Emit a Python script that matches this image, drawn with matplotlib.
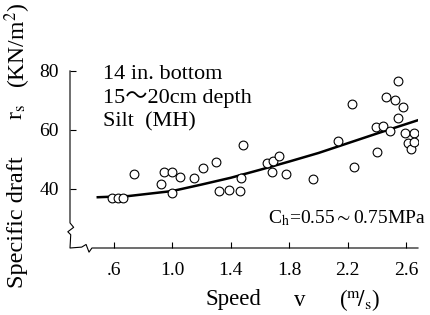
import matplotlib
matplotlib.use('Agg')
import matplotlib.pyplot as plt

# scatter data: speed (m/s), specific draft (kN/m2)
speed = [0.59, 0.63, 0.66, 0.74, 0.92, 0.94, 1.00, 1.00, 1.05, 1.15,
         1.21, 1.30, 1.32, 1.39, 1.46, 1.47, 1.48, 1.65, 1.68, 1.69,
         1.73, 1.78, 1.96, 2.13, 2.23, 2.24, 2.39, 2.40, 2.44, 2.46,
         2.49, 2.52, 2.54, 2.54, 2.58, 2.59, 2.61, 2.63, 2.65, 2.65]
draft = [37.0, 37.0, 37.0, 45.1, 41.7, 45.8, 45.8, 38.6, 44.0, 43.7,
         47.1, 49.2, 39.3, 39.7, 39.3, 43.7, 54.9, 48.8, 45.8, 49.5,
         51.2, 45.1, 43.4, 56.3, 68.8, 47.5, 61.0, 52.5, 61.4, 71.2,
         59.7, 70.2, 76.6, 64.1, 67.8, 59.0, 55.6, 53.6, 59.0, 55.9]

# fitted curve, points
curve_v = [0.49, 0.70, 1.00, 1.20, 1.40, 1.60, 1.80, 2.00, 2.20, 2.40, 2.68]
curve_r = [37.2, 37.6, 39.3, 41.5, 43.8, 46.5, 49.3, 52.2, 55.5, 58.8, 63.3]

xticks = [0.6, 1.0, 1.4, 1.8, 2.2, 2.6]
xlabels = ['.6', '1.0', '1.4', '1.8', '2.2', '2.6']
yticks = [40, 60, 80]

plt.rcParams['font.family'] = 'Liberation Serif'
plt.rcParams['mathtext.fontset'] = 'stix'

fig = plt.figure(figsize=(4.3, 3.15), dpi=100)
ax = fig.add_axes([70 / 430, 1 - 248 / 315, 348 / 430, 183 / 315])
ax.set_xlim(0.30, 2.68)
ax.set_ylim(20, 82)

ax.plot(curve_v, curve_r, color='black', linewidth=1.8)
ax.scatter(speed, draft, s=40, facecolors='white', edgecolors='black',
           linewidths=0.8, zorder=3)

for s in ax.spines.values():
    s.set_visible(False)

# hand drawn axes with break marks
ax.plot([0.30, 0.30, 0.325, 0.285, 0.305, 0.30, 0.38, 0.41, 0.43, 0.45, 2.68],
        [80, 28.5, 27.0, 25.5, 24.5, 20, 20.3, 21.2, 18.6, 20, 20],
        color='black', linewidth=0.8, clip_on=False)

ax.set_xticks(xticks)
ax.set_xticklabels(xlabels)
ax.set_yticks(yticks)
ax.tick_params(direction='in', length=4, width=0.8, labelsize=14, pad=10)
ax.tick_params(axis='y', pad=8)

cjk = ['Liberation Serif', 'Noto Sans CJK JP']
ax.text(103 / 430, 1 - 74 / 315, '14 in. bottom', transform=fig.transFigure,
        fontsize=16, va='center', ha='left', family=cjk)
ax.text(103 / 430, 1 - 98 / 315, '15～20cm depth', transform=fig.transFigure,
        fontsize=16, va='center', ha='left', family=cjk)
ax.text(103 / 430, 1 - 122 / 315, 'Silt  (MH)', transform=fig.transFigure,
        fontsize=16, va='center', ha='left', family=cjk)
ax.text(268 / 430, 1 - 218 / 315, r'C$_{\rm h}$=0.55$\sim$0.75MPa',
        transform=fig.transFigure, fontsize=14, va='center', ha='left')

fig.text(18 / 430, 1 - 222 / 315, 'Specific draft', rotation=90,
         fontsize=17.5, va='center', ha='center')
fig.text(18 / 430, 1 - 112 / 315, r'r$_{\rm s}$', rotation=90,
         fontsize=17, va='center', ha='center')
fig.text(18 / 430, 1 - 45 / 315, r'(KN/m$^2$)', rotation=90,
         fontsize=17, va='center', ha='center')
fig.text(233 / 430, 1 - 300 / 315, 'Speed', fontsize=16.5, va='center', ha='center')
fig.text(300 / 430, 1 - 300 / 315, 'v', fontsize=16.5, va='center', ha='center')
fig.text(360 / 430, 1 - 300 / 315, r'($^{\rm m}\!/_{\rm s}$)', fontsize=16.5,
         va='center', ha='center')

fig.savefig('out.png', dpi=100, facecolor='white')
